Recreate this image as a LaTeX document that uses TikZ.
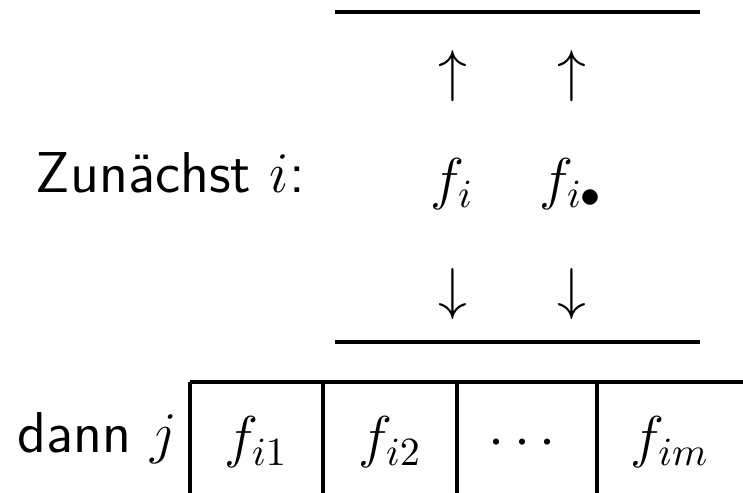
\documentclass[tikz,border=0pt]{standalone}
\usepackage{amsmath}
\usepackage{tikz}
\usetikzlibrary{positioning,calc}

\begin{document}
\begin{tikzpicture}[
    x=0.25pt, y=-0.25pt,
    lbl/.style={font=\Large\sffamily, inner sep=0pt, anchor=base},
    sym/.style={font=\Large, inner sep=0pt},
    rule/.style={line width=0.8pt}
]
\useasboundingbox (0,0) rectangle (743,493);

% oberer Teil: zunaechst i
\coordinate (topL) at (335,12);
\coordinate (topR) at (700,12);
\coordinate (midL) at (335,342);
\coordinate (midR) at (700,342);
\draw[rule] (topL) -- (topR);
\draw[rule] (midL) -- (midR);

\node[lbl, anchor=base west] (first) at (35,193) {Zunächst $i$:};
\node[sym] (up1) at (453,76) {$\uparrow$};
\node[sym] (up2) at (572,76) {$\uparrow$};
\node[lbl] (fi) at (452,199) {$f_i$};
\node[lbl] (fidot) at (571,199) {$f_{i\bullet}$};
\node[sym] (down1) at (453,294) {$\downarrow$};
\node[sym] (down2) at (572,294) {$\downarrow$};

% unterer Teil: dann j
\node[lbl, anchor=base west] (second) at (17,453) {dann $j$};
\draw[rule] (190,382) -- (743,382);
\foreach \x in {190,323,457,597}
    \draw[rule] (\x,382) -- (\x,493);
\node[lbl] (c1) at (256,457) {$f_{i1}$};
\node[lbl] (c2) at (390,457) {$f_{i2}$};
\node[lbl] (c3) at (527,457) {$\cdots$};
\node[lbl] (c4) at (670,457) {$f_{im}$};
\end{tikzpicture}
\end{document}
